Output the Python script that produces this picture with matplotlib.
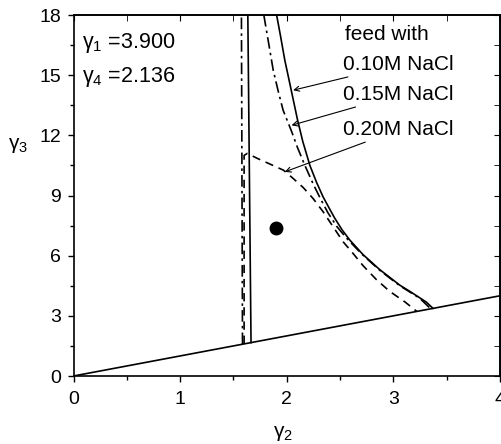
"""Phase diagram in the (gamma2, gamma3) plane for three NaCl feed concentrations."""

import matplotlib

matplotlib.use("Agg")
import matplotlib.pyplot as plt
from matplotlib.ticker import MultipleLocator

plt.rcParams["font.family"] = ["Liberation Sans", "DejaVu Sans"]
plt.rcParams["mathtext.fontset"] = "custom"
plt.rcParams["mathtext.rm"] = "Liberation Sans"
plt.rcParams["mathtext.default"] = "regular"

# diagonal boundary gamma3 = gamma2
diag_x = [0.0, 4.0]
diag_y = [0.0, 4.0]

# 0.10M NaCl (solid)
v010_x = [1.665, 1.635]
v010_y = [1.665, 18.0]
c010_x = [1.905, 1.94, 1.982, 2.02, 2.06, 2.10, 2.15, 2.217, 2.28, 2.341, 2.40, 2.451,
          2.52, 2.591, 2.716, 2.873, 3.06, 3.16, 3.247, 3.31, 3.372]
c010_y = [18.0, 17.0, 15.74, 14.8, 13.8, 12.8, 11.7, 10.5, 9.65, 8.93, 8.35, 7.86,
          7.28, 6.78, 6.05, 5.30, 4.53, 4.20, 3.90, 3.68, 3.37]

# 0.15M NaCl (dash-dot)
v015_x = [1.585, 1.575]
v015_y = [1.585, 18.0]
c015_x = [1.785, 1.83, 1.873, 1.92, 1.966, 2.0, 2.045, 2.10, 2.17, 2.25, 2.32, 2.385,
          2.47, 2.56, 2.70, 2.87, 3.06, 3.247, 3.35]
c015_y = [18.0, 16.6, 15.25, 14.2, 13.25, 12.8, 12.2, 11.4, 10.5, 9.55, 8.8, 8.15,
          7.45, 6.88, 6.10, 5.28, 4.50, 3.88, 3.35]

# 0.20M NaCl (dashed)
c020_x = [1.60, 1.60, 1.63, 1.72, 1.85, 1.97, 2.06, 2.154, 2.247, 2.341, 2.435, 2.529,
          2.622, 2.716, 2.842, 2.966, 3.06, 3.107, 3.22]
c020_y = [1.60, 11.0, 11.1, 10.86, 10.55, 10.26, 9.85, 9.40, 8.85, 8.19, 7.44, 6.69,
          6.11, 5.50, 4.80, 4.22, 3.87, 3.70, 3.22]

# operating point
pt_x = [1.9]
pt_y = [7.4]

labels = ["0.10M NaCl", "0.15M NaCl", "0.20M NaCl"]
label_y = [15.25, 13.75, 12.0]
arrow_tips = [(2.06, 14.25), (2.045, 12.5), (1.982, 10.18)]

fig = plt.figure(figsize=(5.01, 4.44), dpi=100)
ax = fig.add_axes([73.5 / 501, 1 - 376 / 444, 426.5 / 501, 361 / 444])

lw = 1.2
ax.plot(diag_x, diag_y, color="k", lw=lw)
ax.plot(v010_x, v010_y, color="k", lw=lw)
ax.plot(c010_x, c010_y, color="k", lw=lw)
ax.plot(v015_x, v015_y, color="k", lw=lw, dashes=(7, 2.5, 1.5, 2.5))
ax.plot(c015_x, c015_y, color="k", lw=lw, dashes=(7, 2.5, 1.5, 2.5))
ax.plot(c020_x, c020_y, color="k", lw=lw, dashes=(5, 3.5))
ax.plot(pt_x, pt_y, "o", color="k", ms=9)

ax.text(0.08, 16.34, "γ$_1$ =3.900", fontsize=15.5, va="baseline")
ax.text(0.08, 14.65, "γ$_4$ =2.136", fontsize=15.5, va="baseline")
ax.text(2.545, 16.74, "feed with", fontsize=15, va="baseline")
for lab, ly, tip in zip(labels, label_y, arrow_tips):
    ax.annotate(lab, xy=tip, xytext=(2.53, ly), fontsize=15, va="baseline", ha="left",
                arrowprops=dict(arrowstyle="->", color="k", lw=0.8,
                                shrinkA=0, shrinkB=0, mutation_scale=9))

ax.set_xlim(0, 4)
ax.set_ylim(0, 18)
ax.xaxis.set_major_locator(MultipleLocator(1))
ax.xaxis.set_minor_locator(MultipleLocator(0.5))
ax.yaxis.set_major_locator(MultipleLocator(3))
ax.yaxis.set_minor_locator(MultipleLocator(1.5))
ax.tick_params(which="both", direction="out", labelsize=14, width=1.0)
ax.tick_params(which="major", length=4)
ax.tick_params(axis="x", which="major", pad=7)
ax.tick_params(axis="y", which="major", pad=5)
ax.tick_params(which="minor", length=3)

secx = ax.secondary_xaxis("top")
secx.xaxis.set_major_locator(MultipleLocator(1))
secx.xaxis.set_minor_locator(MultipleLocator(0.5))
secx.tick_params(which="both", direction="in", labeltop=False, length=4)
secy = ax.secondary_yaxis("right")
secy.yaxis.set_major_locator(MultipleLocator(3))
secy.yaxis.set_minor_locator(MultipleLocator(1.5))
secy.tick_params(which="both", direction="in", labelright=False, length=4)

for sp in list(ax.spines.values()) + list(secx.spines.values()) + list(secy.spines.values()):
    sp.set_linewidth(1.2)

ax.set_xlabel("γ$_2$", fontsize=15, va="center")
ax.set_ylabel("γ$_3$", fontsize=15, rotation=0, va="center", ha="center")
ax.yaxis.set_label_coords(-0.13, 11.5 / 18)
ax.xaxis.set_label_coords(0.491, -0.158)

fig.savefig("out.png", dpi=100)
